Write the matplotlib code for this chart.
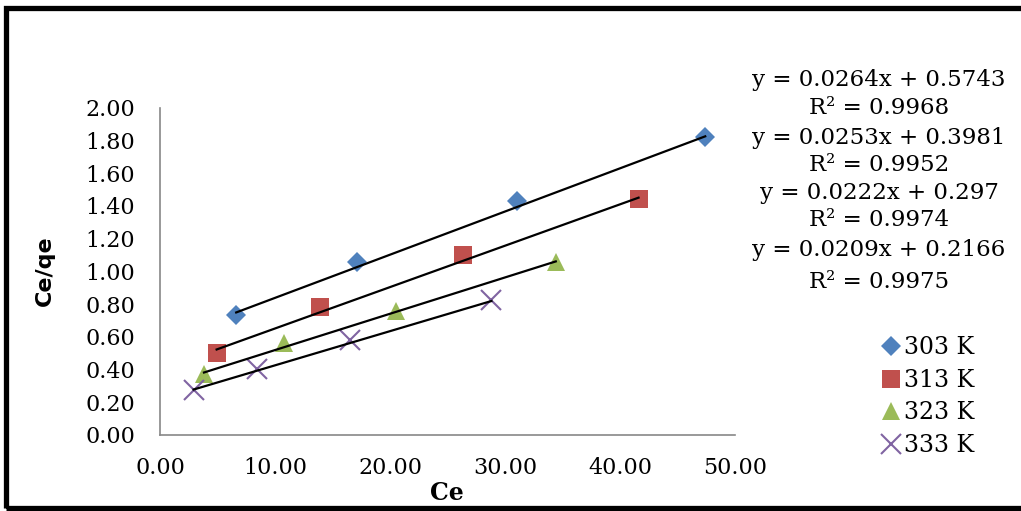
import matplotlib
matplotlib.use('Agg')
import matplotlib.pyplot as plt
import numpy as np
from matplotlib.patches import Rectangle

plt.rcParams['font.family'] = ['DejaVu Serif']

labels = ['303 K', '313 K', '323 K', '333 K']
ce_303 = [6.6, 17.1, 31.0, 47.4]
q_303 = [0.73, 1.06, 1.43, 1.82]
ce_313 = [4.9, 13.9, 26.3, 41.6]
q_313 = [0.50, 0.78, 1.10, 1.44]
ce_323 = [3.8, 10.8, 20.5, 34.4]
q_323 = [0.37, 0.56, 0.76, 1.06]
ce_333 = [2.9, 8.4, 16.5, 28.8]
q_333 = [0.275, 0.40, 0.58, 0.826]
slopes = [0.0264, 0.0253, 0.0222, 0.0209]
intercepts = [0.5743, 0.3981, 0.297, 0.2166]
r2 = ['0.9968', '0.9952', '0.9974', '0.9975']

xs = [ce_303, ce_313, ce_323, ce_333]
ys = [q_303, q_313, q_323, q_333]
colors = ['#4F81BD', '#C0504D', '#9BBB59', '#8064A2']
markers = ['D', 's', '^', 'x']
msizes = [10, 13, 13, 14]

fig = plt.figure(figsize=(10.21, 5.11), dpi=100)
ax = fig.add_axes([0.157, 0.149, 0.563, 0.64])

# trend lines from the fitted equations
for i in range(4):
    x = np.array(xs[i])
    xl = np.array([x.min(), x.max()])
    ax.plot(xl, slopes[i] * xl + intercepts[i], color='black', lw=1.6, zorder=3)
for i in range(4):
    if markers[i] == 'x':
        ax.plot(xs[i], ys[i], linestyle='none', marker='x', ms=msizes[i],
                mew=1.5, color=colors[i], label=labels[i], zorder=2)
    else:
        ax.plot(xs[i], ys[i], linestyle='none', marker=markers[i], ms=msizes[i],
                mew=0, color=colors[i], label=labels[i], zorder=2)

ax.set_xlim(0, 50)
ax.set_ylim(0, 2)
ax.set_xticks(np.arange(0, 51, 10))
ax.set_yticks(np.arange(0, 2.01, 0.2))
ax.set_xticklabels(['%.2f' % v for v in np.arange(0, 51, 10)])
ax.set_yticklabels(['%.2f' % v for v in np.arange(0, 2.01, 0.2)])
ax.tick_params(axis='y', length=0, labelsize=16, pad=18)
ax.tick_params(axis='x', length=0, labelsize=16, pad=16)
for s in ['top', 'right']:
    ax.spines[s].set_visible(False)
for s in ['left', 'bottom']:
    ax.spines[s].set_color('#888888')
    ax.spines[s].set_linewidth(1.2)

fig.text(0.438, 0.035, 'Ce', fontsize=17, fontweight='bold', ha='center', va='center')
fig.text(0.044, 0.47, 'Ce/qe', fontsize=16, family='DejaVu Sans', fontweight='bold',
         rotation=90, ha='center', va='center')

eq_y = [80, 138, 193, 250]
r_y = [108, 165, 220, 282]
for i in range(4):
    fig.text(0.861, 1 - eq_y[i] / 511, 'y = %sx + %s' % (slopes[i], intercepts[i]),
             fontsize=16.5, ha='center', va='center')
    fig.text(0.861, 1 - r_y[i] / 511, 'R² = %s' % r2[i],
             fontsize=16.5, ha='center', va='center')

leg = fig.legend(loc='upper left', bbox_to_anchor=(0.855, 0.36), frameon=False,
                 fontsize=17, handlelength=0.7, handletextpad=0.2, labelspacing=0.4,
                 borderaxespad=0)

fig.patches.append(Rectangle((0.0054, 0.005), 1.2, 0.98, transform=fig.transFigure,
                             fill=False, edgecolor='black', lw=3.8))

fig.savefig('out.png', dpi=100)
